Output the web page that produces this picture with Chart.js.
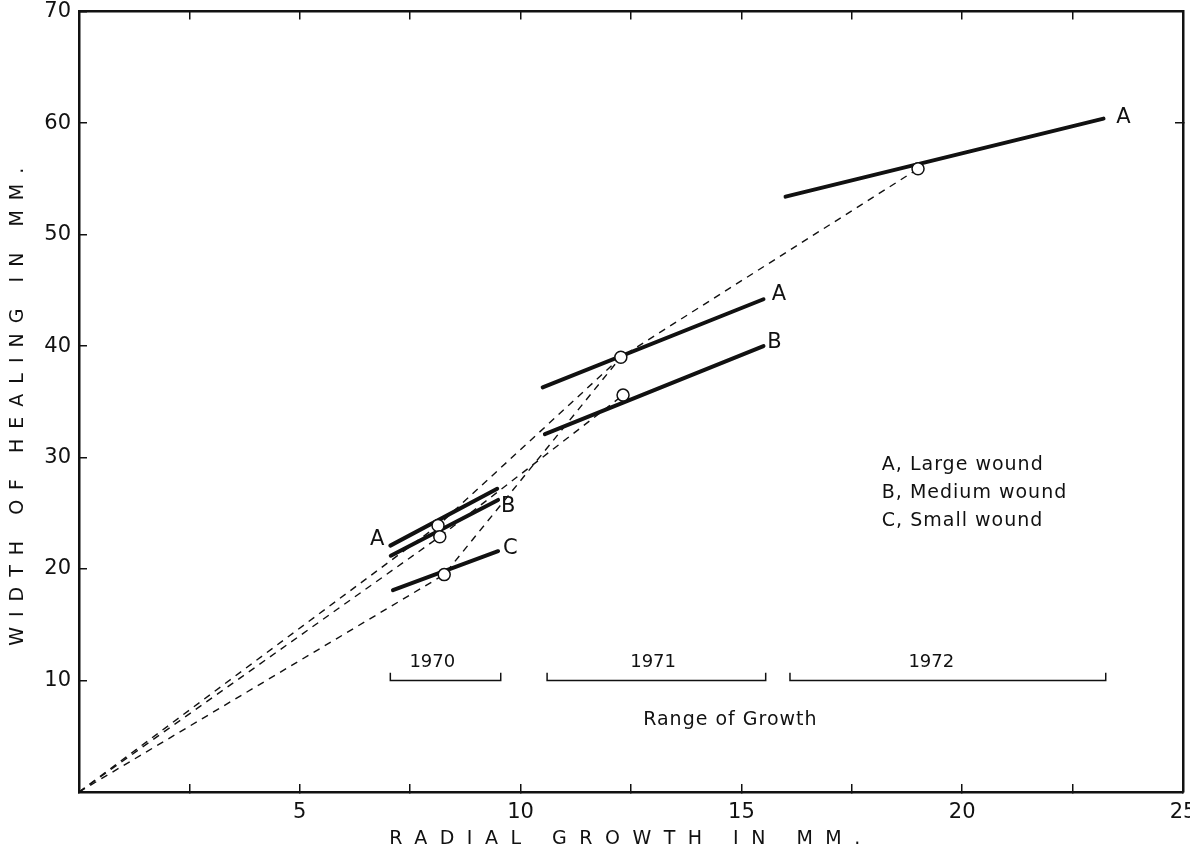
<!DOCTYPE html>
<html>
<head>
<meta charset="utf-8">
<script src="https://cdn.jsdelivr.net/npm/chart.js@4/dist/chart.umd.min.js"></script>
<style>
  html, body { margin: 0; padding: 0; background: #fff; overflow: hidden; }
  #wrap { position: absolute; left: 0; top: -17px; width: 1230px; height: 872px; }
</style>
</head>
<body>
<div id="wrap"><canvas id="woundChart"></canvas></div>
<script>
// axis ticks
const xTickStep = 2.5;
const yTickStep = 10;

// solid growth lines (start / end of each year's range)
const segNames = ['A', 'B', 'C', 'A', 'B', 'A'];
const segX = [[7.05, 9.47], [7.06, 9.49], [7.11, 9.49], [10.5, 15.5], [10.55, 15.5], [16.0, 23.2]];
const segY = [[22.1, 27.2], [21.2, 26.2], [18.1, 21.6], [36.3, 44.2], [32.1, 40.0], [53.4, 60.4]];

// open circles (mean values)
const meanX = [8.13, 8.17, 8.27, 12.27, 12.32, 19.0];
const meanY = [23.9, 22.9, 19.5, 39.0, 35.6, 55.9];

// dashed paths from the origin through the means
const pathAX = [0, 8.13, 12.27, 19.0];
const pathAY = [0, 23.9, 39.0, 55.9];
const pathBX = [0, 8.17, 12.32];
const pathBY = [0, 22.9, 35.6];
const pathCX = [0, 8.27, 12.27];
const pathCY = [0, 19.5, 39.0];

// range of growth brackets
const years = ['1970', '1971', '1972'];
const yearStart = [7.05, 10.6, 16.1];
const yearEnd = [9.55, 15.55, 23.25];
const yearLabelX = [8.0, 13.0, 19.3];
const bracketY = 10;
const bracketTop = 10.7;

// line end labels
const endText = ['A', 'B', 'C', 'A', 'B', 'A'];
const endX = [6.75, 9.72, 9.77, 15.85, 15.75, 23.65];
const endY = [22.6, 25.6, 21.8, 44.6, 40.3, 60.5];

const legendLines = ['A, Large wound', 'B, Medium wound', 'C, Small wound'];

const ink = '#111';

function pts(xs, ys) {
  return xs.map((v, i) => ({ x: v, y: ys[i] }));
}

const datasets = [];
datasets.push({
  type: 'scatter',
  data: pts(meanX, meanY),
  pointRadius: 6,
  pointBackgroundColor: '#fff',
  pointBorderColor: ink,
  pointBorderWidth: 1.5
});
segX.forEach((xs, i) => {
  datasets.push({ data: pts(xs, segY[i]), borderColor: ink, borderWidth: 4, pointRadius: 0, borderCapStyle: 'round' });
});
[[pathAX, pathAY], [pathBX, pathBY], [pathCX, pathCY]].forEach(p => {
  datasets.push({ data: pts(p[0], p[1]), borderColor: ink, borderWidth: 1.4, borderDash: [7, 6], pointRadius: 0 });
});
years.forEach((yr, i) => {
  datasets.push({
    data: pts([yearStart[i], yearStart[i], yearEnd[i], yearEnd[i]], [bracketTop, bracketY, bracketY, bracketTop]),
    borderColor: ink, borderWidth: 1.5, pointRadius: 0
  });
});

const notes = {
  id: 'notes',
  beforeDraw(chart) {
    // spread out the axis titles like the original lettering
    [['x', '12.5px'], ['y', '10px']].forEach(([id, sp]) => {
      const s = chart.scales[id];
      if (s._spaced) return;
      const orig = s.drawTitle.bind(s);
      s.drawTitle = function () {
        const c = this.ctx;
        c.save();
        c.letterSpacing = sp;
        orig();
        c.restore();
      };
      s._spaced = true;
    });
  },
  afterDatasetsDraw(chart) {
    const { ctx, scales: { x, y } } = chart;
    ctx.save();
    ctx.fillStyle = ink;
    ctx.textBaseline = 'middle';
    ctx.textAlign = 'center';
    ctx.font = '21px "DejaVu Sans"';
    endText.forEach((t, i) => ctx.fillText(t, x.getPixelForValue(endX[i]), y.getPixelForValue(endY[i])));

    ctx.font = '18px "DejaVu Sans"';
    years.forEach((yr, i) => {
      ctx.fillText(yr, x.getPixelForValue(yearLabelX[i]), y.getPixelForValue(11.6));
    });
    ctx.font = '19px "DejaVu Sans"';
    ctx.letterSpacing = '1px';
    ctx.fillText('Range of Growth', x.getPixelForValue(14.75), y.getPixelForValue(6.45));

    ctx.textAlign = 'left';
    legendLines.forEach((t, i) => {
      ctx.fillText(t, x.getPixelForValue(18.18), y.getPixelForValue(29.3 - i * 2.5));
    });
    ctx.restore();
  }
};

const tickFont = { family: 'DejaVu Sans', size: 21 };
const titleFont = { family: 'DejaVu Sans', size: 19 };

new Chart(document.getElementById('woundChart'), {
  type: 'line',
  data: { datasets },
  options: {
    responsive: true,
    maintainAspectRatio: false,
    animation: false,
    layout: { padding: 0 },
    plugins: { legend: { display: false }, tooltip: { enabled: false } },
    scales: {
      x: {
        type: 'linear', position: 'bottom', min: 0, max: 25,
        ticks: {
          stepSize: xTickStep, color: ink, font: tickFont, padding: 16, maxRotation: 0, autoSkip: false,
          callback: v => (v > 0 && v % 5 === 0) ? String(v) : ''
        },
        grid: { drawOnChartArea: false, tickLength: -8, color: ink, lineWidth: 1.5 },
        border: { display: true, color: ink, width: 2.5 },
        title: { display: true, text: 'RADIAL GROWTH IN MM.', color: ink, font: titleFont, padding: { top: 0, bottom: 5 } },
        afterFit: s => { s.height = 63; }
      },
      x2: {
        type: 'linear', axis: 'x', position: 'top', min: 0, max: 25,
        ticks: { stepSize: xTickStep, display: false },
        grid: { drawOnChartArea: false, tickLength: -8, color: ink, lineWidth: 1.5 },
        border: { display: true, color: ink, width: 2.5 },
        afterFit: s => { s.height = 13; }
      },
      y: {
        type: 'linear', position: 'left', min: 0, max: 70,
        ticks: {
          stepSize: yTickStep, color: ink, font: tickFont, padding: 16,
          callback: v => v > 0 ? String(v) : ''
        },
        grid: { drawOnChartArea: false, tickLength: -8, color: ink, lineWidth: 1.5 },
        border: { display: true, color: ink, width: 2.5 },
        title: { display: true, text: 'WIDTH OF HEALING IN MM.', color: ink, font: titleFont, padding: { top: 7, bottom: 0 } },
        afterFit: s => { s.width = 79; }
      },
      y2: {
        type: 'linear', axis: 'y', position: 'right', min: 0, max: 70,
        ticks: { display: false },
        afterBuildTicks: s => { s.ticks = [{ value: 60 }]; },
        grid: { drawOnChartArea: false, tickLength: -8, color: ink, lineWidth: 1.5 },
        border: { display: true, color: ink, width: 2.5 },
        afterFit: s => { s.width = 47; }
      }
    }
  },
  plugins: [notes]
});
</script>
</body>
</html>
